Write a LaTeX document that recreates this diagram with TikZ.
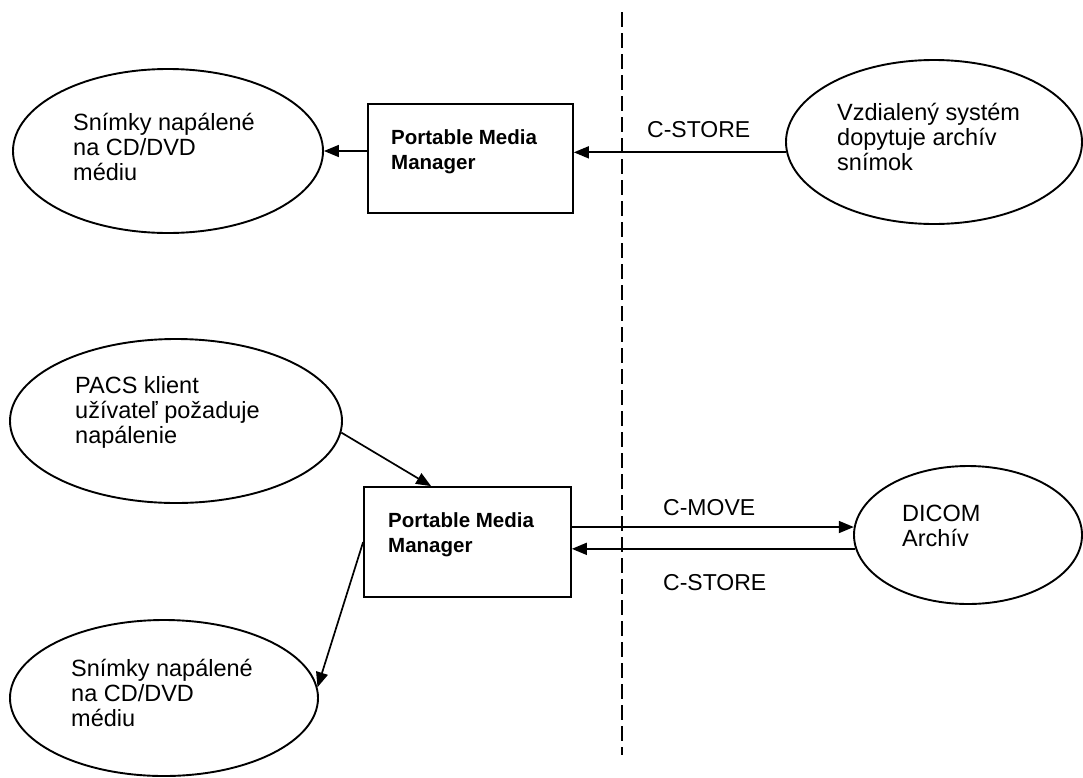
\documentclass[tikz,border=0pt]{standalone}
\usepackage{fontspec}
\setmainfont{Liberation Sans}
\usetikzlibrary{shapes.geometric,arrows.meta}
\tikzset{
  ell/.style={draw, ellipse, line width=1.9pt, inner sep=0pt},
  pmm/.style={draw, rectangle, line width=1.7pt, inner sep=0pt},
  txt/.style={anchor=west, align=left, inner sep=0pt, font=\fontsize{23.5}{25}\selectfont},
  btxt/.style={anchor=west, align=left, inner sep=0pt, font=\fontsize{20.5}{25}\selectfont\bfseries},
  lbl/.style={anchor=west, inner sep=0pt, font=\fontsize{23}{25}\selectfont},
  arr/.style={line width=1.7pt, -{Triangle[length=15pt,width=12pt]}},
  dashln/.style={line width=2pt, dash pattern=on 15pt off 6pt},
}
\begin{document}
\begin{tikzpicture}[x=1pt,y=-1pt]
\path[fill=white,use as bounding box] (0,0) rectangle (1083,777);

% ellipses
\node[ell, minimum width=310pt, minimum height=164pt] (e1) at (168,151) {};
\node[ell, minimum width=296pt, minimum height=164pt] (e2) at (934,142) {};
\node[ell, minimum width=332pt, minimum height=164pt] (e3) at (176,421) {};
\node[ell, minimum width=308pt, minimum height=156pt] (e4) at (164,698) {};
\node[ell, minimum width=228pt, minimum height=138pt] (e5) at (968,535) {};

% boxes
\node[pmm, minimum width=205pt, minimum height=109pt] (b1) at (470.5,158.5) {};
\node[pmm, minimum width=207pt, minimum height=110pt] (b2) at (467.5,542) {};

% texts
\node[txt] (t1) at (73,147) {Snímky napálené\\na CD/DVD\\médiu};
\node[txt] (t2) at (837,137) {Vzdialený systém\\dopytuje archív\\snímok};
\node[txt] (t3) at (75,412) {PACS klient\\užívateľ požaduje\\napálenie};
\node[txt] (t4) at (71,693) {Snímky napálené\\na CD/DVD\\médiu};
\node[txt] (t5) at (902,525.5) {DICOM\\Archív};
\node[btxt] (p1) at (391,151.5) {Portable Media\\Manager};
\node[btxt] (p2) at (388,534.5) {Portable Media\\Manager};

% labels
\node[lbl] (l1) at (647,130) {C-STORE};
\node[lbl] (l2) at (663,508) {C-MOVE};
\node[lbl] (l3) at (663,583) {C-STORE};

% divider
\coordinate (d1) at (622,12);
\coordinate (d2) at (622,755);
\draw[dashln] (d1) -- (d2);

% connectors
\draw[arr] (b1.west |- e1.east) -- (e1.east);
\draw[arr] (e2.184) -- (e2.184 -| b1.east);
\draw[arr] (e3.356) -- ([xshift=68pt]b2.north west);
\draw[arr] (b2.west) -- (e4.4);
\draw[arr] (e5.176 -| b2.east) -- (e5.176);
\draw[arr] (e5.187) -- (e5.187 -| b2.east);
\end{tikzpicture}
\end{document}
